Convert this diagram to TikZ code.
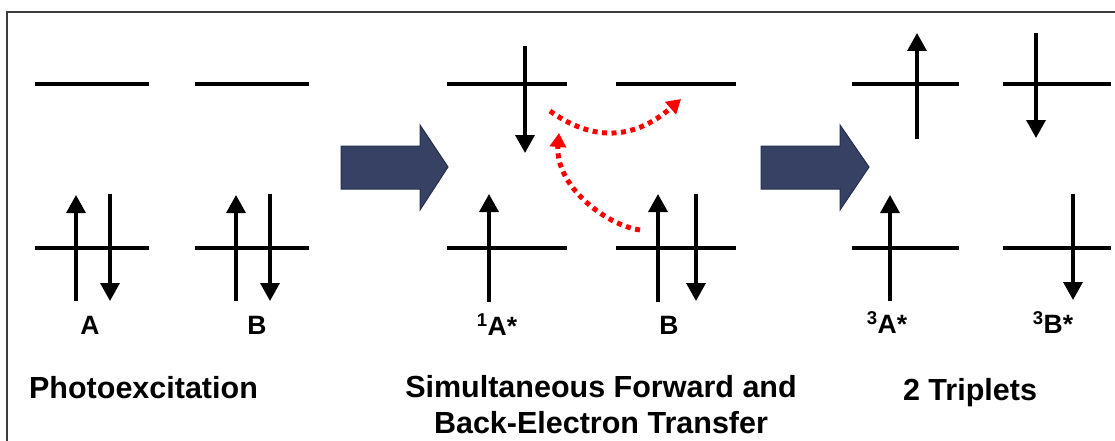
\documentclass[tikz,border=0pt]{standalone}
\usepackage{fontspec}
\setmainfont{Liberation Sans}
\usetikzlibrary{arrows.meta}
\definecolor{navy}{RGB}{54,65,100}
\definecolor{navyedge}{RGB}{38,48,78}
\definecolor{framegray}{RGB}{60,60,60}
\tikzset{
  level/.style={line width=4pt},
  spin/.style={line width=3.4pt,-{Triangle[width=19pt,length=18pt]}},
  transfer/.style={red,line width=5pt,dash pattern=on 5pt off 4.5pt,-{Triangle[width=16pt,length=14pt]}},
  bigarrow/.style={fill=navy,draw=navyedge,line width=1pt,line join=miter},
  lbl/.style={font=\fontsize{26.5}{30}\selectfont\bfseries,inner sep=0pt},
  title/.style={font=\fontsize{30.5}{36}\selectfont\bfseries,inner sep=0pt,align=center}
}
\begin{document}
\begin{tikzpicture}[x=1pt,y=-1pt]
\useasboundingbox (0,0) rectangle (1115,441);
% frame
\draw[framegray,line width=1.4pt] (7,450) -- (7,12) -- (1125,12);

% ---------- Panel 1 ----------
\draw[level] (35,84) -- (149,84);
\draw[level] (195,84) -- (309,84);
\draw[level] (35,248) -- (149,248);
\draw[level] (195,248) -- (309,248);
\draw[spin] (76,301) -- (76,195);
\draw[spin] (110,194) -- (110,301);
\draw[spin] (236,301) -- (236,195);
\draw[spin] (270,194) -- (270,301);
\node[lbl] (lA) at (90,325) {A};
\node[lbl] (lB) at (257,325) {B};
\node[title] (t1) at (143.5,388) {Photoexcitation};

% big arrow 1
\draw[bigarrow] (341,146) -- (420,146) -- (420,125) -- (448,167) -- (420,210) -- (420,189) -- (341,189) -- cycle;

% ---------- Panel 2 ----------
\draw[level] (447,84) -- (567,84);
\draw[level] (616,84) -- (736,84);
\draw[level] (447,248) -- (567,248);
\draw[level] (616,248) -- (736,248);
\draw[spin] (525,46) -- (525,153);
\draw[spin] (489,302) -- (489,194);
\draw[spin] (658,302) -- (658,194);
\draw[spin] (696,194) -- (696,301);
\coordinate (f0) at (550,111);
\coordinate (f1) at (681,99);
\coordinate (b0) at (640,230);
\coordinate (b1) at (559,133);
\draw[transfer] (f0) .. controls (590,140) and (632,142) .. (f1);
\draw[transfer] (b0) .. controls (605,225) and (555,185) .. (b1);
\node[lbl] (l1A) at (497,325) {\textsuperscript{1}A*};
\node[lbl] (l2B) at (669,325) {B};
\node[title] (t2) at (601,405) {Simultaneous Forward and\\Back-Electron Transfer};

% big arrow 2
\draw[bigarrow] (761,146) -- (840,146) -- (840,125) -- (869,167) -- (840,210) -- (840,189) -- (761,189) -- cycle;

% ---------- Panel 3 ----------
\draw[level] (852,84) -- (959,84);
\draw[level] (1003,84) -- (1111,84);
\draw[level] (852,248) -- (959,248);
\draw[level] (1003,248) -- (1111,248);
\draw[spin] (917,139) -- (917,33);
\draw[spin] (1036,33) -- (1036,138);
\draw[spin] (890,301) -- (890,195);
\draw[spin] (1073,194) -- (1073,300);
\node[lbl] (l3A) at (887,323) {\textsuperscript{3}A*};
\node[lbl] (l3B) at (1053,323) {\textsuperscript{3}B*};
\node[title] (t3) at (970,393) {2 Triplets};
\end{tikzpicture}
\end{document}
